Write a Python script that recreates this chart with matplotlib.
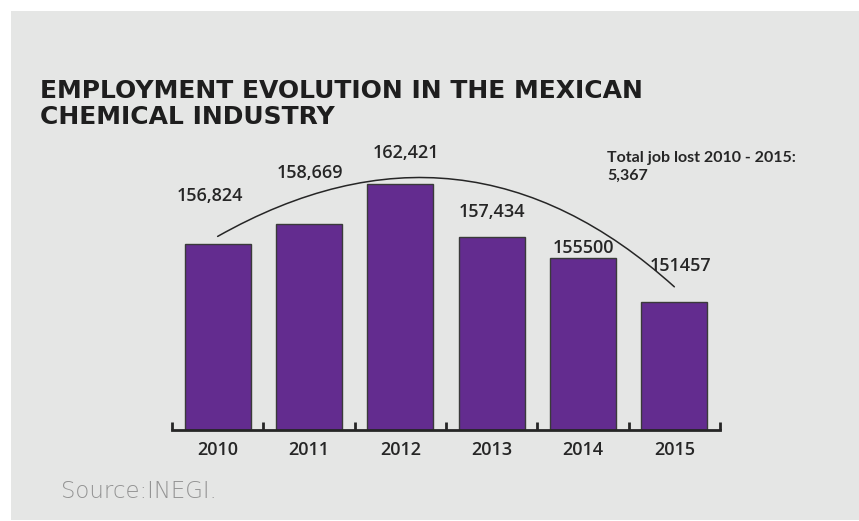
import matplotlib.pyplot as plt
from matplotlib.patches import Rectangle, FancyArrowPatch

years = ["2010", "2011", "2012", "2013", "2014", "2015"]
employees = [156824, 158669, 162421, 157434, 155500, 151457]
value_labels = ["156,824", "158,669", "162,421", "157,434", "155500", "151457"]
total_lost_label = "5,367"

# label offsets from each bar top, in pixels (dx, dy)
label_offsets = [(-8, 48), (1, 51), (6, 31), (0, 25), (0, 10), (6, 36)]

BG = "#e5e6e5"
BAR = "#632c8f"
INK = "#262626"
LABEL_FONT = dict(family="Open Sans", fontweight="semibold", fontsize=13, color=INK)

fig = plt.figure(figsize=(8.59, 5.21), dpi=100, facecolor="white")
fig.patches.append(Rectangle((11 / 859, 1 / 521), 1 - 11 / 859, 1 - 12 / 521,
                             transform=fig.transFigure, facecolor=BG,
                             edgecolor="none", zorder=-5))

ax = fig.add_axes([0.2002, 0.1747, 0.638, 0.5566])
ax.set_facecolor("none")
ax.set_zorder(2)

x = list(range(len(years)))
ax.bar(x, employees, width=0.72, bottom=0, color=BAR, edgecolor="#3a3a3a",
       linewidth=1, zorder=2)
ax.set_xlim(-0.5, len(years) - 0.5)
ax.set_ylim(139600, 166452)

for spine in ["top", "left", "right"]:
    ax.spines[spine].set_visible(False)
ax.spines["bottom"].set_linewidth(2)
ax.spines["bottom"].set_color(INK)
ax.set_yticks([])

ax.set_xticks(x)
ax.set_xticklabels(years, **LABEL_FONT)
ax.tick_params(axis="x", which="major", length=0, pad=8)
ax.set_xticks([i - 0.5 for i in range(len(years) + 1)], minor=True)
ax.tick_params(axis="x", which="minor", direction="in", length=6, width=2, color=INK)

for i, (v, lab) in enumerate(zip(employees, value_labels)):
    dx, dy = label_offsets[i]
    ax.annotate(lab, xy=(i, v), xytext=(dx, dy), textcoords="offset pixels",
                ha="center", va="center", annotation_clip=False, **LABEL_FONT)

# trend arc over the bars
arc = FancyArrowPatch((0, employees[0] + 700), (5, employees[-1] + 1400),
                      connectionstyle="arc3,rad=-0.36", arrowstyle="-",
                      color=INK, linewidth=1.1, shrinkA=0, shrinkB=0, zorder=3)
ax.add_patch(arc)
arc.set_clip_on(False)

fig.text(40 / 859, 1 - 90.5 / 521, "EMPLOYMENT EVOLUTION IN THE MEXICAN",
         fontsize=18, fontweight="heavy", family="DejaVu Sans", color="#1e1e1e", va="center")
fig.text(40 / 859, 1 - 117 / 521, "CHEMICAL INDUSTRY",
         fontsize=18, fontweight="heavy", family="DejaVu Sans", color="#1e1e1e", va="center")

fig.text(607 / 859, 1 - 158 / 521, "Total job lost 2010 - 2015:",
         fontsize=11.5, fontweight="bold", family="Lato", color=INK, va="center")
fig.text(607 / 859, 1 - 176 / 521, total_lost_label,
         fontsize=11.5, fontweight="bold", family="Lato", color=INK, va="center")

fig.text(61 / 859, 1 - 491 / 521, "Source:INEGI.", fontsize=16.5,
         fontweight="light", family="DejaVu Sans", color="#939393", va="center")

fig.savefig("out.png", dpi=100, facecolor=fig.get_facecolor())
